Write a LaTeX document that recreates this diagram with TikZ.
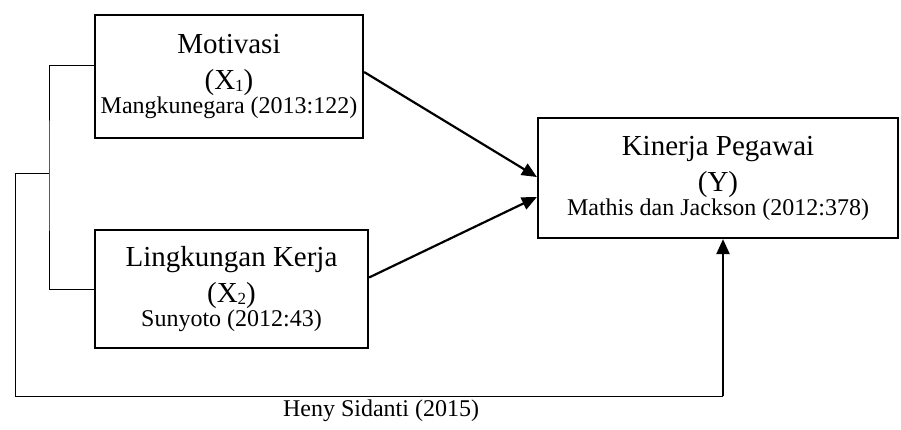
\documentclass[tikz,border=0pt]{standalone}
\usepackage{fontspec}
\setmainfont{Liberation Serif}
\usepackage{tikz}
\usetikzlibrary{arrows.meta, % for triangle tips
                positioning}

\newcommand{\subidx}[1]{\raisebox{-2pt}{\fontsize{17}{17}\selectfont #1}}
\newcommand{\refsmall}[1]{\fontsize{24}{24}\selectfont #1}

\begin{document}
\begin{tikzpicture}[x=1pt, y=-1pt,
                    var/.style={draw, line width=2.2pt, rectangle, inner sep=0pt,
                                font=\fontsize{29}{36}\selectfont},
                    arrow/.style={-{Triangle[length=15pt,width=13pt]}, line width=2.2pt},
                    thinline/.style={line width=1pt},
                    cite/.style={font=\fontsize{24}{24}\selectfont}
                    ]
    \useasboundingbox (0,0) rectangle (901,430);
    %variable boxes
    \node[var, minimum width=268pt, minimum height=123pt] at (229,76.5) (X1)
        {\begin{tabular}{@{}c@{}}Motivasi\\(X\subidx{1})\\[-12pt]\refsmall{Mangkunegara (2013:122)}\end{tabular}};
    \node[var, minimum width=273pt, minimum height=118pt] at (231.5,289) (X2)
        {\begin{tabular}{@{}c@{}}Lingkungan Kerja\\(X\subidx{2})\\[-12pt]\refsmall{Sunyoto (2012:43)}\end{tabular}};
    \node[var, minimum width=360pt, minimum height=120pt] at (718,178) (Y)
        {\begin{tabular}{@{}c@{}}Kinerja Pegawai\\(Y)\\[-12pt]\refsmall{Mathis dan Jackson (2012:378)}\end{tabular}};

    %bracket and simultaneous path
    \coordinate (brk) at (49,174);
    \coordinate (fb1) at (15,174);
    \coordinate (fb2) at (723,396);
    \draw[thinline] ([yshift=10.5pt]X1.west) -| (brk) |- (X2.west);
    \draw[thinline] (brk) -- (fb1) |- (fb2);
    \draw[arrow] (fb2) -- (fb2 |- Y.south);

    %partial paths
    \draw[arrow] ([yshift=4.5pt]X1.east) -- ([yshift=1pt]Y.west);
    \draw[arrow] ([yshift=11.5pt]X2.east) -- ([yshift=-19pt]Y.west);

    \node[cite] at (381,411) (src) {Heny Sidanti (2015)};
\end{tikzpicture}
\end{document}
